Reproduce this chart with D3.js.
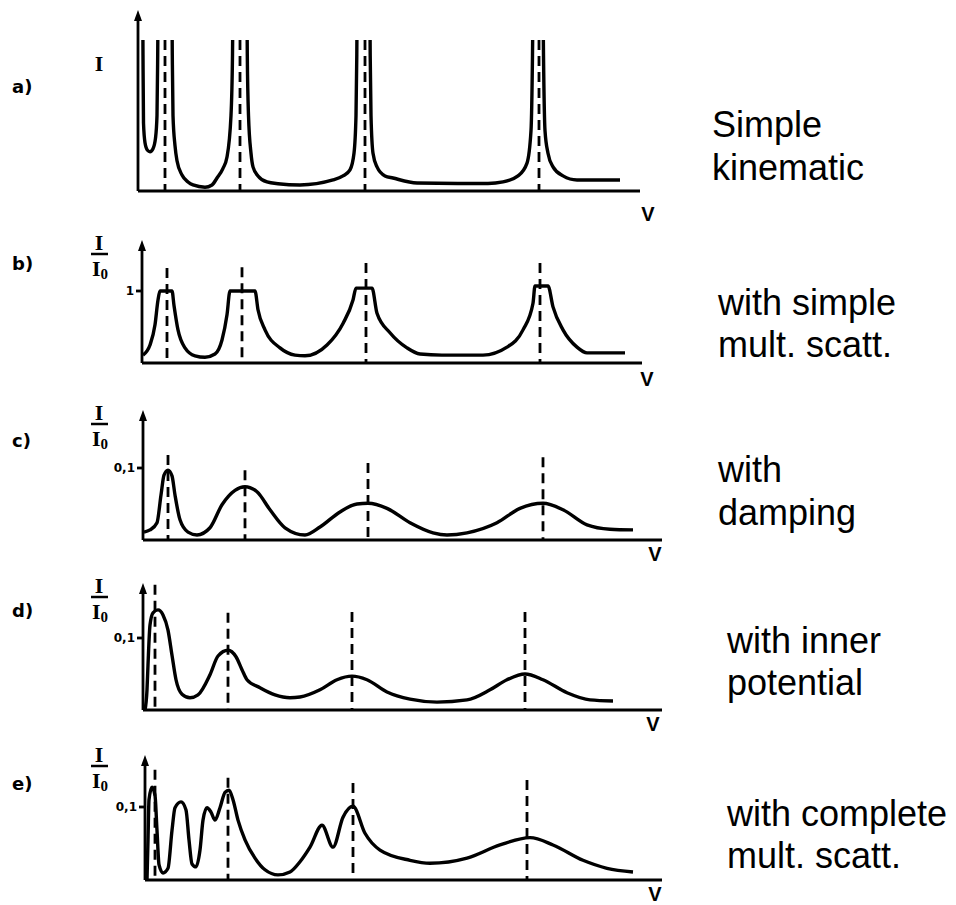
<!DOCTYPE html>
<html>
<head>
<meta charset="utf-8">
<script src="https://cdn.jsdelivr.net/npm/d3@7"></script>
<style>
body { margin: 0; background: #fff; }
svg { display: block; }
.curve { fill: none; stroke: #000; stroke-width: 3.4; stroke-linejoin: round; }
.axis { stroke: #000; stroke-width: 2.8; fill: none; }
.bragg { stroke: #000; stroke-width: 2.8; stroke-dasharray: 10,6; }
.caption { font-family: "Liberation Sans", Arial, sans-serif; font-size: 36px; fill: #000; }
.tag { font-family: "DejaVu Sans", sans-serif; font-weight: bold; font-size: 18px; }
.ilabel { font-family: "Liberation Serif", serif; font-weight: bold; font-size: 22px; }
.ticklabel { font-family: "DejaVu Sans", sans-serif; font-weight: bold; font-size: 12px; }
.vlabel { font-family: "Liberation Sans", Arial, sans-serif; font-weight: bold; font-size: 20px; }
</style>
</head>
<body>
<svg width="956" height="905"></svg>
<script>
// panel tags and captions
var tags = ["a)", "b)", "c)", "d)", "e)"];
var captions = [
    ["Simple", "kinematic"],
    ["with simple", "mult. scatt."],
    ["with", "damping"],
    ["with inner", "potential"],
    ["with complete", "mult. scatt."]
];
var tickLabels = [null, "1", "0,1", "0,1", "0,1"];
var refValues = [1, 1, 0.1, 0.1, 0.1];

// Bragg positions (V) and top of each dashed marker (I)
var braggV = [
    [27, 102, 227, 401],
    [25, 100, 224, 398],
    [25, 102, 225, 400],
    [12, 85, 209, 382],
    [10, 83, 208, 382]
];
var braggTop = [
    [1, 1, 1, 1],
    [1.32, 1.33, 1.39, 1.39],
    [0.118, 0.097, 0.107, 0.115],
    [0.174, 0.135, 0.136, 0.136],
    [0.151, 0.14, 0.133, 0.137]
];

// intensity curves, [V, I]
var curveA = [[4.5, 1.6], [5, 0.9], [5.5, 0.45], [7, 0.32], [9.5, 0.27], [12, 0.26], [15, 0.28], [17.5, 0.35],
    [19, 0.5], [19.7, 0.9], [20.5, 1.6], [27, 3], [33.5, 1.6], [34.3, 0.9], [35, 0.5], [37, 0.3], [39, 0.2],
    [44, 0.106], [50, 0.06], [55, 0.04], [67, 0.025], [74, 0.04], [79, 0.086], [85, 0.15], [89, 0.225],
    [93, 0.5], [94.5, 0.9], [95.5, 1.6], [102, 3], [108.5, 1.6], [109.3, 0.9], [110.5, 0.5], [113, 0.25],
    [115, 0.16], [120, 0.1], [129, 0.06], [140, 0.048], [162, 0.04], [195, 0.073], [205, 0.1], [212, 0.14],
    [216, 0.25], [218, 0.5], [218.8, 0.9], [219.5, 1.6], [225.5, 3], [231.5, 1.6], [232.2, 0.9], [233, 0.5],
    [235, 0.25], [239, 0.16], [247, 0.1], [255, 0.086], [279, 0.053], [320, 0.05], [350, 0.05], [365, 0.06],
    [380, 0.1], [389, 0.185], [393, 0.4], [394.5, 0.9], [395.5, 1.6], [400, 3], [404.5, 1.6], [405.5, 0.9],
    [407, 0.4], [410, 0.25], [415, 0.16], [425, 0.1], [439, 0.073], [482, 0.073]];

var curveB = [[1, 0.11], [8, 0.25], [13, 0.53], [16, 0.875], [18, 1.0], [30, 1.0], [32, 0.8], [36, 0.46],
    [43, 0.21], [53, 0.1], [63, 0.08], [73, 0.125], [80, 0.32], [85, 0.67], [88, 1.0], [113, 1.0],
    [116, 0.74], [123, 0.46], [138, 0.21], [153, 0.11], [163, 0.1], [185, 0.25], [201, 0.55], [211, 0.875],
    [214, 1.04], [230, 1.04], [235, 0.69], [248, 0.42], [265, 0.21], [278, 0.125], [300, 0.11], [341, 0.11],
    [365, 0.22], [381, 0.46], [391, 0.83], [393, 1.07], [406, 1.07], [411, 0.78], [421, 0.46], [435, 0.22],
    [445, 0.14], [483, 0.14]];

var curveC = [[1, 0.011], [7, 0.014], [14, 0.024], [18, 0.0625], [21, 0.09], [25, 0.097], [29, 0.089],
    [32, 0.0625], [37, 0.028], [45, 0.011], [54, 0.007], [67, 0.017], [79, 0.049], [92, 0.069], [102, 0.074],
    [114, 0.067], [127, 0.042], [142, 0.017], [162, 0.007], [177, 0.018], [197, 0.039], [214, 0.05],
    [225, 0.051], [244, 0.044], [267, 0.024], [290, 0.01], [304, 0.007], [324, 0.01], [354, 0.024],
    [377, 0.044], [400, 0.051], [420, 0.042], [444, 0.021], [467, 0.015], [490, 0.014]];

var curveD = [[2, 0], [4, 0.028], [5, 0.0625], [7, 0.118], [10, 0.135], [15, 0.139], [20, 0.132], [25, 0.111],
    [29, 0.076], [33, 0.042], [39, 0.022], [47, 0.017], [55, 0.021], [67, 0.049], [75, 0.075], [85, 0.083],
    [93, 0.074], [99, 0.056], [104, 0.042], [117, 0.031], [132, 0.021], [147, 0.017], [157, 0.018],
    [177, 0.028], [194, 0.042], [209, 0.047], [224, 0.042], [244, 0.025], [267, 0.015], [294, 0.011],
    [324, 0.014], [347, 0.028], [364, 0.042], [382, 0.05], [400, 0.042], [424, 0.024], [447, 0.014],
    [470, 0.0125]];

var curveE = [[2, 0], [3, 0.055], [4, 0.11], [7, 0.127], [10, 0.116], [12, 0.068], [14, 0.021], [18, 0.0096],
    [23, 0.016], [27, 0.068], [30, 0.099], [36, 0.107], [41, 0.096], [44, 0.055], [47, 0.022], [51, 0.018],
    [55, 0.041], [58, 0.082], [62, 0.099], [66, 0.093], [70, 0.082], [75, 0.099], [80, 0.12], [84, 0.123],
    [88, 0.11], [93, 0.082], [100, 0.055], [110, 0.03], [120, 0.014], [133, 0.007], [145, 0.011],
    [155, 0.025], [165, 0.045], [177, 0.075], [188, 0.045], [198, 0.086], [208, 0.101], [220, 0.064],
    [235, 0.041], [265, 0.027], [285, 0.023], [322, 0.03], [355, 0.048], [385, 0.058], [408, 0.048],
    [438, 0.027], [462, 0.016], [488, 0.011]];

var curves = [curveA, curveB, curveC, curveD, curveE];

// frame of each panel on the page
var layout = [
    {x0: 138, base: 191, ref: 40, top: 10, end: 640, tagY: 93, vx: 648, vy: 221},
    {x0: 142, base: 363, ref: 291, top: 240, end: 642, tagY: 270, vx: 647, vy: 386},
    {x0: 143, base: 540, ref: 468, top: 410, end: 662, tagY: 447, vx: 655, vy: 561},
    {x0: 143, base: 710, ref: 638, top: 583, end: 662, tagY: 617, vx: 653, vy: 731},
    {x0: 145, base: 880, ref: 807, top: 755, end: 662, tagY: 790, vx: 655, vy: 901}
];
var fracY = [null, 250, 420, 593, 762];
var capPos = [[712, 137, 180], [718, 315, 357], [718, 482, 525], [727, 653, 695], [727, 826, 868]];

var svg = d3.select("svg");

svg.append("clipPath").attr("id", "clipA")
    .append("rect").attr("x", 0).attr("y", layout[0].ref).attr("width", 956).attr("height", 200);

layout.forEach(function(p, i) {
    var g = svg.append("g");
    var x = d3.scaleLinear().domain([0, 500]).range([p.x0, p.x0 + 500]);
    var y = d3.scaleLinear().domain([0, refValues[i]]).range([p.base, p.ref]);

    // axes
    g.append("line").attr("class", "axis")
        .attr("x1", p.x0).attr("x2", p.x0).attr("y1", p.base).attr("y2", p.top + 6);
    g.append("line").attr("class", "axis")
        .attr("x1", p.x0).attr("x2", p.end).attr("y1", p.base).attr("y2", p.base);
    g.append("path")
        .attr("d", "M" + p.x0 + "," + p.top + "l-4,11h8z")
        .attr("fill", "#000");

    if (tickLabels[i]) {
        g.append("line").attr("class", "axis").attr("stroke-width", 2)
            .attr("x1", p.x0 - 6).attr("x2", p.x0).attr("y1", y(refValues[i])).attr("y2", y(refValues[i]));
        g.append("text").attr("class", "ticklabel")
            .attr("x", p.x0 - 8).attr("y", y(refValues[i]) + 4)
            .attr("text-anchor", "end")
            .text(tickLabels[i]);
    }

    // Bragg markers
    g.selectAll(".bragg")
        .data(braggV[i])
        .enter().append("line")
        .attr("class", "bragg")
        .attr("x1", function(d) { return x(d); })
        .attr("x2", function(d) { return x(d); })
        .attr("y1", function(d, k) { return y(braggTop[i][k]); })
        .attr("y2", p.base);

    var line = d3.line()
        .x(function(d) { return x(d[0]); })
        .y(function(d) { return y(d[1]); })
        .curve(d3.curveMonotoneX);

    var path = g.append("path").attr("class", "curve").attr("d", line(curves[i]));
    if (i === 0) path.attr("clip-path", "url(#clipA)");

    // labels
    g.append("text").attr("class", "tag").attr("x", 12).attr("y", p.tagY).text(tags[i]);
    g.append("text").attr("class", "vlabel").attr("x", p.vx).attr("y", p.vy)
        .attr("text-anchor", "middle").text("V");

    if (i === 0) {
        g.append("text").attr("class", "ilabel").attr("x", 99).attr("y", 71)
            .attr("text-anchor", "middle").text("I");
    } else {
        var fy = fracY[i];
        g.append("text").attr("class", "ilabel").attr("x", 99).attr("y", fy)
            .attr("text-anchor", "middle").text("I");
        g.append("line").attr("stroke", "#000").attr("stroke-width", 2.5)
            .attr("x1", 91).attr("x2", 108).attr("y1", fy + 4).attr("y2", fy + 4);
        var t = g.append("text").attr("class", "ilabel").attr("x", 92).attr("y", fy + 26);
        t.append("tspan").text("I");
        t.append("tspan").attr("font-size", 15).attr("dy", 3).text("0");
    }

    captions[i].forEach(function(c, k) {
        g.append("text").attr("class", "caption")
            .attr("x", capPos[i][0]).attr("y", capPos[i][1 + k]).text(c);
    });
});
</script>
</body>
</html>
